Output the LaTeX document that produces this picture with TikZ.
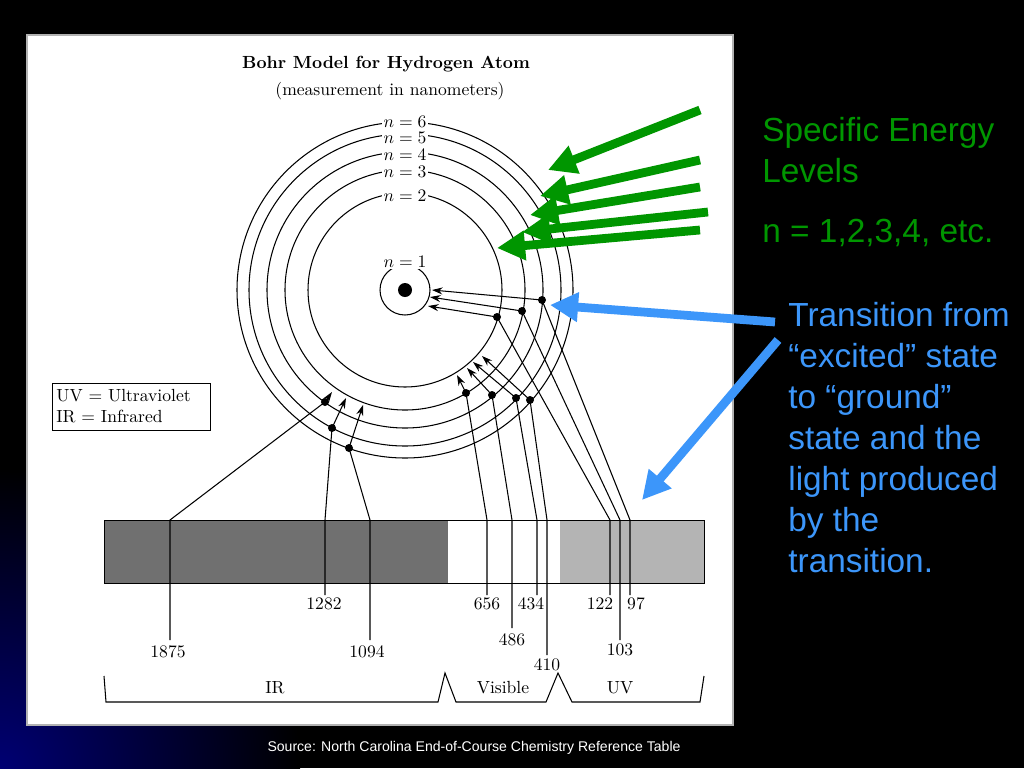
\documentclass[tikz,border=0pt]{standalone}
\usepackage{fontspec}
\newfontfamily\arialfont{Liberation Sans}
\usetikzlibrary{arrows.meta}
\definecolor{slgreen}{RGB}{0,150,0}
\definecolor{slblue}{RGB}{60,150,250}
\definecolor{bardark}{RGB}{112,112,112}
\definecolor{barlight}{RGB}{180,180,180}
\tikzset{
 lvl/.style={fill=white, inner sep=1pt},
 trans/.style={-{Stealth[length=6pt,width=4pt]}, semithick},
 wave/.style={semithick},
 num/.style={},
 bigarrow/.style={line width=5pt, -{Triangle[length=16pt,width=16pt]}},
 slidetext/.style={font=\arialfont\fontsize{19}{23.3}\selectfont, anchor=west, inner sep=0pt}
}
\begin{document}
\begin{tikzpicture}[x=0.02cm,y=-0.02cm]
 %background
 \useasboundingbox (0,0) rectangle (1024,768);
 \fill[black] (0,0) rectangle (1024,768);
 \begin{scope}
  \clip (0,0) rectangle (1024,768);
  \shade[inner color=blue!45!black, outer color=black] (0,768) circle (300);
 \end{scope}

 %white panel
 \draw[fill=white, draw=gray!60, line width=1.5pt] (27,35) rectangle (733,725);
 \node[font=\bfseries] (title) at (386,64) {Bohr Model for Hydrogen Atom};
 \node (subtitle) at (390,91) {(measurement in nanometers)};

 %nucleus and orbits
 \coordinate (O) at (405,290);
 \fill (O) circle (7);
 \foreach \r in {25,97,120,138,156,168} \draw[semithick] (O) circle (\r);
 \node[lvl] (n1) at (405,262) {$n=1$};
 \node[lvl] (n2) at (405,196) {$n=2$};
 \node[lvl] (n3) at (405,172) {$n=3$};
 \node[lvl] (n4) at (405,155) {$n=4$};
 \node[lvl] (n5) at (405,138) {$n=5$};
 \node[lvl] (n6) at (405,122) {$n=6$};

 %spectrum bar
 \fill[bardark] (104,520) rectangle (448,583);
 \fill[white] (448,520) rectangle (560,583);
 \fill[barlight] (560,520) rectangle (704,583);
 \draw[thin] (104,520) rectangle (704,583);

 %Lyman series
 \foreach \sx/\sy/\tx/\ty/\bx/\ey in {542/300/432/290/630/595, 522/311/430/297/620/640, 497/317/428/306/610/595}{
  \fill (\sx,\sy) circle (4);
  \draw[trans] (\sx,\sy) -- (\tx,\ty);
  \draw[wave] (\sx,\sy) -- (\bx,520) -- (\bx,\ey);
 }
 %Balmer series
 \foreach \sx/\sy/\tx/\ty/\bx/\ey in {466/393/457/375/487/595, 492/395/467/368/512/628, 516/398/473/362/537/595, 530/400/482/356/547/655}{
  \fill (\sx,\sy) circle (4);
  \draw[trans] (\sx,\sy) -- (\tx,\ty);
  \draw[wave] (\sx,\sy) -- (\bx,520) -- (\bx,\ey);
 }
 %Paschen series
 \foreach \sx/\sy/\tx/\ty/\bx/\ey in {325/402/332/392/170/640, 332/428/346/398/325/595, 349/448/363/405/370/640}{
  \fill (\sx,\sy) circle (4);
  \draw[trans] (\sx,\sy) -- (\tx,\ty);
  \draw[wave] (\sx,\sy) -- (\bx,520) -- (\bx,\ey);
 }

 %wavelengths
 \node[num] (w1282) at (324,604) {1282};
 \node[num] (w656) at (487,604) {656};
 \node[num] (w434) at (531,604) {434};
 \node[num] (w122) at (600,604) {122};
 \node[num] (w97) at (636,604) {97};
 \node[num] (w1875) at (168,652) {1875};
 \node[num] (w1094) at (367,652) {1094};
 \node[num] (w486) at (512,640) {486};
 \node[num] (w103) at (620,650) {103};
 \node[num] (w410) at (547,665) {410};

 %regions
 \draw[semithick] (104,676) -- (106,702) -- (438,702) -- (445,673) -- (456,702) -- (546,702) -- (558,673) -- (572,702) -- (700,702) -- (704,676);
 \node (ir) at (275,688) {IR};
 \node (vis) at (503,688) {Visible};
 \node (uv) at (620,688) {UV};

 %legend
 \draw (52,383) rectangle (210,430);
 \node[anchor=west, align=left, inner sep=0pt] (legend) at (56,406) {UV = Ultraviolet\\IR = Infrared};

 %slide text
 \node[slidetext, text=slgreen, align=left] (energy) at (762,150) {Specific Energy\\Levels};
 \node[slidetext, text=slgreen] (nlist) at (762,233) {n = 1,2,3,4, etc.};
 \node[slidetext, text=slblue, align=left, anchor=north west] (transtext) at (788,302) {Transition from\\“excited” state\\to “ground”\\state and the\\light produced\\by the\\transition.};

 %pointer arrows
 \draw[bigarrow, slgreen] (700,110) -- (548,170);
 \draw[bigarrow, slgreen] (700,160) -- (540,196);
 \draw[bigarrow, slgreen] (700,187) -- (530,215);
 \draw[bigarrow, slgreen] (708,212) -- (522,232);
 \draw[bigarrow, slgreen] (700,230) -- (497,248);
 \draw[bigarrow, slblue] (775,322) -- (550,305);
 \draw[bigarrow, slblue] (778,340) -- (642,500);

 \node[font=\arialfont\fontsize{8}{10}\selectfont, text=white] (source) at (474,748) {Source: North Carolina End-of-Course Chemistry Reference Table};
\end{tikzpicture}
\end{document}
